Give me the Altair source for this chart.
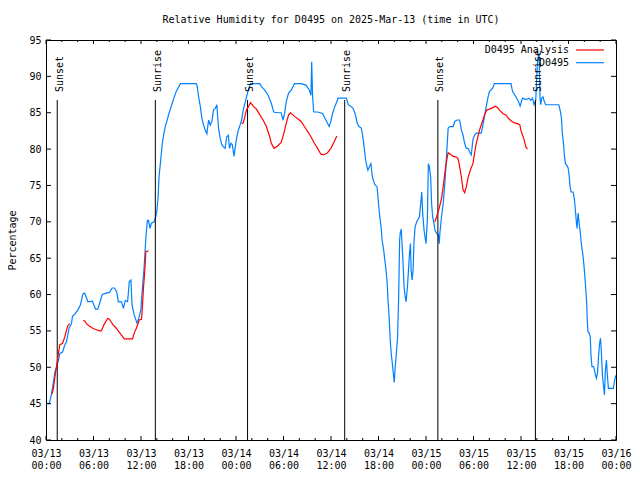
import altair as alt
import pandas as pd

# ---------------- data (hours since 2025-03-13 00:00 UTC, percent) ----------------
blue_h = [0, 0.41, 0.71, 0.91, 1.13, 1.34, 1.54, 1.75, 2.09, 2.38, 2.59, 2.92, 3.22, 3.34, 3.63, 4.04,
          4.35, 4.67, 4.88, 5.30, 5.85, 6.26, 6.55, 7.10, 7.60, 8.01, 8.35, 8.64, 8.93, 9.14, 9.55, 9.77,
          10.02, 10.31, 10.52, 10.73, 10.86, 11.14, 11.48, 11.68, 11.98, 12.18, 12.40, 12.52, 12.61, 12.81,
          12.94, 13.15, 13.31, 13.65, 13.86, 13.99, 14.15, 14.28, 14.49, 14.69, 14.90, 15.11, 15.31, 15.53,
          15.74, 15.94, 16.15, 16.44, 16.78, 16.99, 18.95, 19.07, 19.28, 19.50, 19.70, 19.91, 20.12, 20.32,
          20.54, 20.75, 20.95, 21.16, 21.38, 21.58, 21.79, 22.00, 22.20, 22.41, 22.63, 22.83, 23.04, 23.17,
          23.38, 23.54, 23.75, 23.88, 24.08, 24.29, 24.51, 24.71, 24.92, 25.13, 25.33, 25.55, 25.83, 27.01,
          27.21, 27.64, 28.05, 28.46, 28.76, 29.30, 29.71, 29.93, 30.14, 30.34, 30.64, 30.97, 31.39, 32.22,
          32.84, 33.27, 33.47, 33.56, 33.68, 33.81, 34.31, 34.93, 35.35, 35.77, 35.98, 36.19, 36.40, 36.73,
          36.90, 37.65, 37.94, 38.19, 38.48, 38.78, 39.03, 39.19, 39.32, 39.53, 39.82, 39.94, 40.07, 40.23,
          40.36, 40.48, 40.66, 40.86, 41.04, 41.20, 41.32, 41.54, 41.82, 41.95, 42.11, 42.33, 42.45, 42.66,
          42.79, 42.95, 43.08, 43.20, 43.36, 43.49, 43.61, 43.79, 43.91, 43.99, 44.11, 44.24, 44.41, 44.54,
          44.67, 44.74, 44.87, 44.95, 45.08, 45.24, 45.37, 45.49, 45.67, 45.79, 45.92, 46.04, 46.12, 46.24,
          46.37, 46.49, 46.62, 46.83, 47.17, 47.33, 47.46, 47.58, 47.75, 47.87, 48.00, 48.17, 48.30, 48.42,
          48.59, 48.71, 48.84, 49.00, 49.12, 49.34, 49.55, 49.67, 49.75, 49.96, 50.17, 50.38, 50.59, 50.80,
          51.00, 51.43, 51.63, 51.93, 52.25, 52.47, 52.68, 52.88, 53.09, 53.30, 53.51, 53.72, 53.93, 54.13,
          54.35, 54.97, 55.19, 55.39, 55.60, 55.81, 56.01, 56.44, 56.64, 58.73, 58.94, 59.36, 59.69, 59.89,
          60.19, 60.61, 61.02, 61.23, 61.45, 61.65, 61.86, 62.07, 62.27, 62.40, 62.49, 62.61, 62.77, 62.90,
          63.11, 64.78, 64.99, 65.12, 65.20, 65.36, 65.49, 65.61, 65.83, 65.95, 66.08, 66.20, 66.33, 66.58,
          66.74, 66.87, 66.99, 67.08, 67.21, 67.28, 67.37, 67.50, 67.62, 67.79, 67.91, 68.04, 68.16, 68.29,
          68.37, 68.46, 68.62, 68.75, 68.83, 68.96, 69.16, 69.28, 69.41, 69.53, 69.66, 69.79, 69.91, 70.04,
          70.12, 70.29, 70.41, 70.54, 70.66, 70.79, 70.91, 71.04, 71.67, 71.79, 71.97]
blue_v = [45.0, 45.0, 46.4, 47.8, 49.4, 50.1, 50.8, 51.9, 52.1, 53.1, 53.5, 55.4, 56.0, 57.0, 57.3, 57.9,
          58.6, 60.1, 60.2, 59.0, 59.1, 58.0, 58.0, 60.0, 60.2, 60.3, 60.9, 60.9, 60.4, 59.0, 59.0, 58.1,
          59.2, 59.0, 61.8, 62.0, 58.6, 57.2, 56.1, 56.6, 57.9, 60.9, 63.8, 66.1, 67.7, 70.2,
          70.2, 69.1, 69.8, 70.0, 70.7, 71.4, 73.2, 76.2, 78.5, 80.8, 82.2, 83.3, 84.0, 84.9,
          85.6, 86.3, 87.0, 87.9, 88.6, 89.0, 89.0, 88.8, 87.2, 85.8, 84.2, 83.3, 82.6, 82.1,
          84.0, 83.3, 83.8, 85.4, 85.6, 86.1, 82.9, 81.5, 80.6, 80.3, 80.1, 81.7, 81.9, 80.1,
          80.8, 80.6, 79.0, 80.1, 81.5, 82.6, 83.3, 84.0, 85.4, 86.3, 87.2, 88.1, 89.0, 89.0,
          88.6, 88.1, 87.4, 86.3, 85.1, 85.0, 85.0, 84.0, 84.9, 86.5, 87.7, 88.1, 89.0, 89.0,
          88.8, 88.1, 87.4, 92.0, 87.2, 85.1, 85.1, 84.9, 84.0, 83.1, 83.8, 84.9, 85.6, 86.5,
          87.0, 87.0, 87.0, 86.1, 85.9, 85.6, 84.9, 84.2, 83.5, 83.1, 82.9, 82.2, 81.3, 79.9,
          78.6, 77.9, 77.1, 77.6, 78.0, 76.4, 75.8, 75.1, 74.8, 73.2, 71.2, 69.3, 67.5, 66.1,
          64.8, 63.4, 61.8, 59.3, 56.5, 53.5, 51.9, 50.1, 48.7, 47.9, 50.1, 51.7, 54.2, 59.3,
          67.5, 68.4, 69.0, 67.5, 64.8, 60.9, 59.7, 59.0, 61.3, 63.4, 65.7, 67.0, 63.4, 62.0,
          63.4, 67.3, 69.3, 70.0, 70.7, 72.5, 74.1, 71.2, 68.9, 68.0, 67.0, 70.2, 78.0, 77.6,
          76.2, 72.5, 70.7, 69.8, 68.9, 68.4, 68.2, 67.0, 68.4, 70.7, 72.5, 75.3, 79.0, 82.9,
          83.1, 83.1, 83.8, 84.0, 84.0, 82.6, 81.9, 80.8, 80.1, 80.1, 79.6, 79.2, 81.3, 81.9,
          82.2, 82.2, 83.3, 84.5, 85.8, 87.0, 87.9, 88.4, 89.0, 89.0, 87.9, 87.2, 86.5, 85.9,
          87.0, 86.8, 87.0, 86.7, 87.0, 86.1, 86.7, 91.8, 93.2, 87.2, 86.1, 87.0, 87.2, 86.7,
          86.1, 86.1, 85.1, 84.2, 82.4, 80.8, 79.0, 78.0, 77.7, 77.4, 76.4, 74.8, 74.1, 74.1,
          73.2, 71.6, 70.0, 69.1, 71.2, 70.5, 69.6, 68.4, 67.0, 65.7, 64.5, 62.9, 61.1, 59.0,
          56.5, 54.9, 54.7, 54.2, 51.9, 50.1, 50.1, 49.6, 48.9, 48.5, 49.2, 51.4, 53.1, 54.0,
          52.8, 48.9, 47.6, 46.2, 49.6, 51.0, 48.9, 47.1, 47.1, 48.0, 48.9]

red1_h = [0.71, 0.91, 1.13, 1.34, 1.54, 1.75, 2.09, 2.38, 2.59, 2.79, 3.01]
red1_v = [46.3, 46.9, 48.7, 50.1, 51.7, 53.1, 53.3, 54.2, 55.1, 55.8, 56.0]
red2_h = [4.67, 4.88, 5.10, 5.42, 5.85, 6.26, 6.76, 6.97, 7.39, 7.80, 8.01, 8.43, 8.85, 9.27, 9.89,
          10.93, 11.14, 11.43, 11.77, 12.06, 12.18, 12.31, 12.43, 12.52, 12.61, 12.94]
red2_v = [56.4, 56.4, 56.0, 55.7, 55.4, 55.2, 55.0, 55.0, 56.0, 56.7, 56.6, 55.9, 55.4, 54.8, 53.9,
          53.9, 54.7, 55.4, 56.5, 56.6, 58.3, 60.9, 62.5, 64.1, 65.9, 66.0]
red3_h = [24.71, 24.92, 25.13, 25.33, 25.55, 25.83, 26.17, 26.58, 27.01, 27.42, 27.84, 28.26, 28.46,
          28.80, 29.21, 29.71, 30.05, 30.34, 30.64, 30.89, 31.39, 31.89, 32.22, 32.64, 33.06, 33.47,
          33.90, 34.31, 34.72, 35.06, 35.56, 35.98, 36.40, 36.73]
red3_v = [83.5, 83.6, 84.5, 85.4, 85.8, 86.4, 85.9, 85.5, 84.7, 84.0, 83.1, 81.7, 80.8,
          80.1, 80.4, 80.9, 82.2, 83.5, 84.7, 85.0, 84.5, 84.1, 83.8, 83.1, 82.4, 81.7,
          80.8, 80.1, 79.3, 79.2, 79.5, 80.1, 81.0, 81.8]
red4_h = [49.12, 49.34, 49.67, 49.96, 50.17, 50.38, 50.59, 50.80, 51.09, 51.43, 51.84, 52.05, 52.25,
          52.47, 52.68, 52.88, 53.09, 53.30, 53.59, 53.93, 54.13, 54.35, 54.56, 54.76, 54.97, 55.19,
          55.39, 55.69, 56.01, 56.44, 56.76, 57.06, 57.26, 57.69, 58.10, 58.44, 58.73, 59.14, 59.57,
          59.86, 59.98, 60.19, 60.39, 60.61, 60.82]
red4_v = [70.0, 70.7, 71.9, 73.2, 74.8, 76.7, 78.3, 79.5, 79.3, 79.0, 78.9, 78.7, 77.6,
          76.2, 74.4, 74.0, 74.8, 76.0, 77.1, 78.0, 79.4, 80.8, 81.7, 82.6, 83.3, 84.0,
          84.7, 85.4, 85.5, 85.7, 85.9, 85.7, 85.4, 84.9, 84.7, 84.2, 83.9, 83.6, 83.5,
          83.3, 82.6, 81.9, 81.3, 80.3, 80.0]

event_h = [1.42, 13.81, 25.46, 37.73, 49.50, 61.82]
event_label = ["Sunset", "Sunrise", "Sunset", "Sunrise", "Sunset", "Sunrise"]

y_ticks = [40, 45, 50, 55, 60, 65, 70, 75, 80, 85, 90, 95]
x_major_h = list(range(0, 73, 6))
x_minor_h = [h for h in range(0, 73, 2) if h % 6 != 0]

TITLE = "Relative Humidity for D0495 on 2025-Mar-13 (time in UTC)"
SERIES_RED = "D0495 Analysis"
SERIES_BLUE = "D0495"

# ---------------- build ----------------
BASE = int(pd.Timestamp("2025-03-13T00:00:00Z").value // 10**6)
HOUR = 3600000


def ms(h):
    return BASE + h * HOUR


blue_df = pd.DataFrame({"t": [ms(h) for h in blue_h], "v": blue_v})
red_rows = []
for i, (hh, vv) in enumerate([(red1_h, red1_v), (red2_h, red2_v), (red3_h, red3_v), (red4_h, red4_v)]):
    for h, v in zip(hh, vv):
        red_rows.append({"t": ms(h), "v": v, "seg": i})
red_df = pd.DataFrame(red_rows)
ev_df = pd.DataFrame({"t": [ms(h) for h in event_h], "label": event_label})
ytick_df = pd.DataFrame({"v": y_ticks})
xmaj_df = pd.DataFrame({"t": [ms(h) for h in x_major_h]})
xmin_df = pd.DataFrame({"t": [ms(h) for h in x_minor_h]})

W, H = 570, 400
FONT = "DejaVu Sans Mono"
BLUE = "#0080ff"
RED = "#ff0000"

xscale = alt.Scale(type="utc", domain=[ms(0), ms(72)], nice=False)
yscale = alt.Scale(domain=[40, 95], nice=False, zero=False)

x_axis = alt.Axis(
    values=[ms(h) for h in x_major_h],
    labelExpr="[utcFormat(datum.value, '%m/%d'), utcFormat(datum.value, '%H:%M')]",
    ticks=False, tickSize=0, domain=False, grid=False,
    labelFont=FONT, labelFontSize=10, labelColor="black",
    labelPadding=8, labelLineHeight=12.5, labelAngle=0,
    labelFlush=False, labelOverlap=False, title=None,
)
y_axis = alt.Axis(
    values=y_ticks, ticks=False, tickSize=0, domain=False, grid=False,
    labelFont=FONT, labelFontSize=10, labelColor="black", labelPadding=5,
    title="Percentage", titleFont=FONT, titleFontSize=10, titleFontWeight="normal",
    titleColor="black", titlePadding=11,
)


def X(field="t:T"):
    return alt.X(field, scale=xscale, axis=x_axis)


def Y(field="v:Q"):
    return alt.Y(field, scale=yscale, axis=y_axis)


blue = alt.Chart(blue_df).mark_line(color=BLUE, strokeWidth=1.2).encode(x=X(), y=Y())
red = alt.Chart(red_df).mark_line(color=RED, strokeWidth=1.2).encode(x=X(), y=Y(), detail="seg:N")
ev_rule = alt.Chart(ev_df).mark_rule(color="black", strokeWidth=1).encode(
    x=X(), y=alt.value(H * 0.15), y2=alt.value(H),
)
ev_text = alt.Chart(ev_df).mark_text(
    angle=270, align="left", baseline="alphabetic", dy=5.5,
    font=FONT, fontSize=10, color="black",
).encode(x=X(), y=alt.value(H * 0.13), text="label:N")

xmaj_b = alt.Chart(xmaj_df).mark_rule(color="black").encode(x=X(), y=alt.value(H), y2=alt.value(H - 4))
xmaj_t = alt.Chart(xmaj_df).mark_rule(color="black").encode(x=X(), y=alt.value(0), y2=alt.value(4))
xmin_b = alt.Chart(xmin_df).mark_rule(color="black").encode(x=X(), y=alt.value(H), y2=alt.value(H - 2))
xmin_t = alt.Chart(xmin_df).mark_rule(color="black").encode(x=X(), y=alt.value(0), y2=alt.value(2))
y_l = alt.Chart(ytick_df).mark_rule(color="black").encode(y=Y(), x=alt.value(0), x2=alt.value(5))
y_r = alt.Chart(ytick_df).mark_rule(color="black").encode(y=Y(), x=alt.value(W - 5), x2=alt.value(W))

leg_df = pd.DataFrame({"name": [SERIES_RED]})
leg_df2 = pd.DataFrame({"name": [SERIES_BLUE]})
LX = W - 47
leg_t1 = alt.Chart(leg_df).mark_text(align="right", baseline="middle", font=FONT, fontSize=10,
                                     color="black").encode(text="name:N", x=alt.value(LX), y=alt.value(10))
leg_t2 = alt.Chart(leg_df2).mark_text(align="right", baseline="middle", font=FONT, fontSize=10,
                                      color="black").encode(text="name:N", x=alt.value(LX), y=alt.value(22.7))
leg_l1 = alt.Chart(leg_df).mark_rule(color=RED, strokeWidth=1.2).encode(
    x=alt.value(LX + 7), x2=alt.value(LX + 35), y=alt.value(10))
leg_l2 = alt.Chart(leg_df2).mark_rule(color=BLUE, strokeWidth=1.2).encode(
    x=alt.value(LX + 7), x2=alt.value(LX + 35), y=alt.value(22.7))

chart = alt.layer(
    blue, ev_rule, ev_text, red, xmaj_b, xmaj_t, xmin_b, xmin_t, y_l, y_r,
    leg_t1, leg_t2, leg_l1, leg_l2,
).properties(
    width=W, height=H,
    title=alt.Title(TITLE, font=FONT, fontSize=10, fontWeight="normal", color="black",
                    anchor="middle", offset=10),
    autosize=alt.AutoSizeParams(type="none"),
    padding={"left": 38, "top": 32, "right": 16, "bottom": 30},
    background="white",
).configure_view(stroke="black", strokeWidth=1)

chart.save("out.html", embed_options={"renderer": "svg", "actions": False})
